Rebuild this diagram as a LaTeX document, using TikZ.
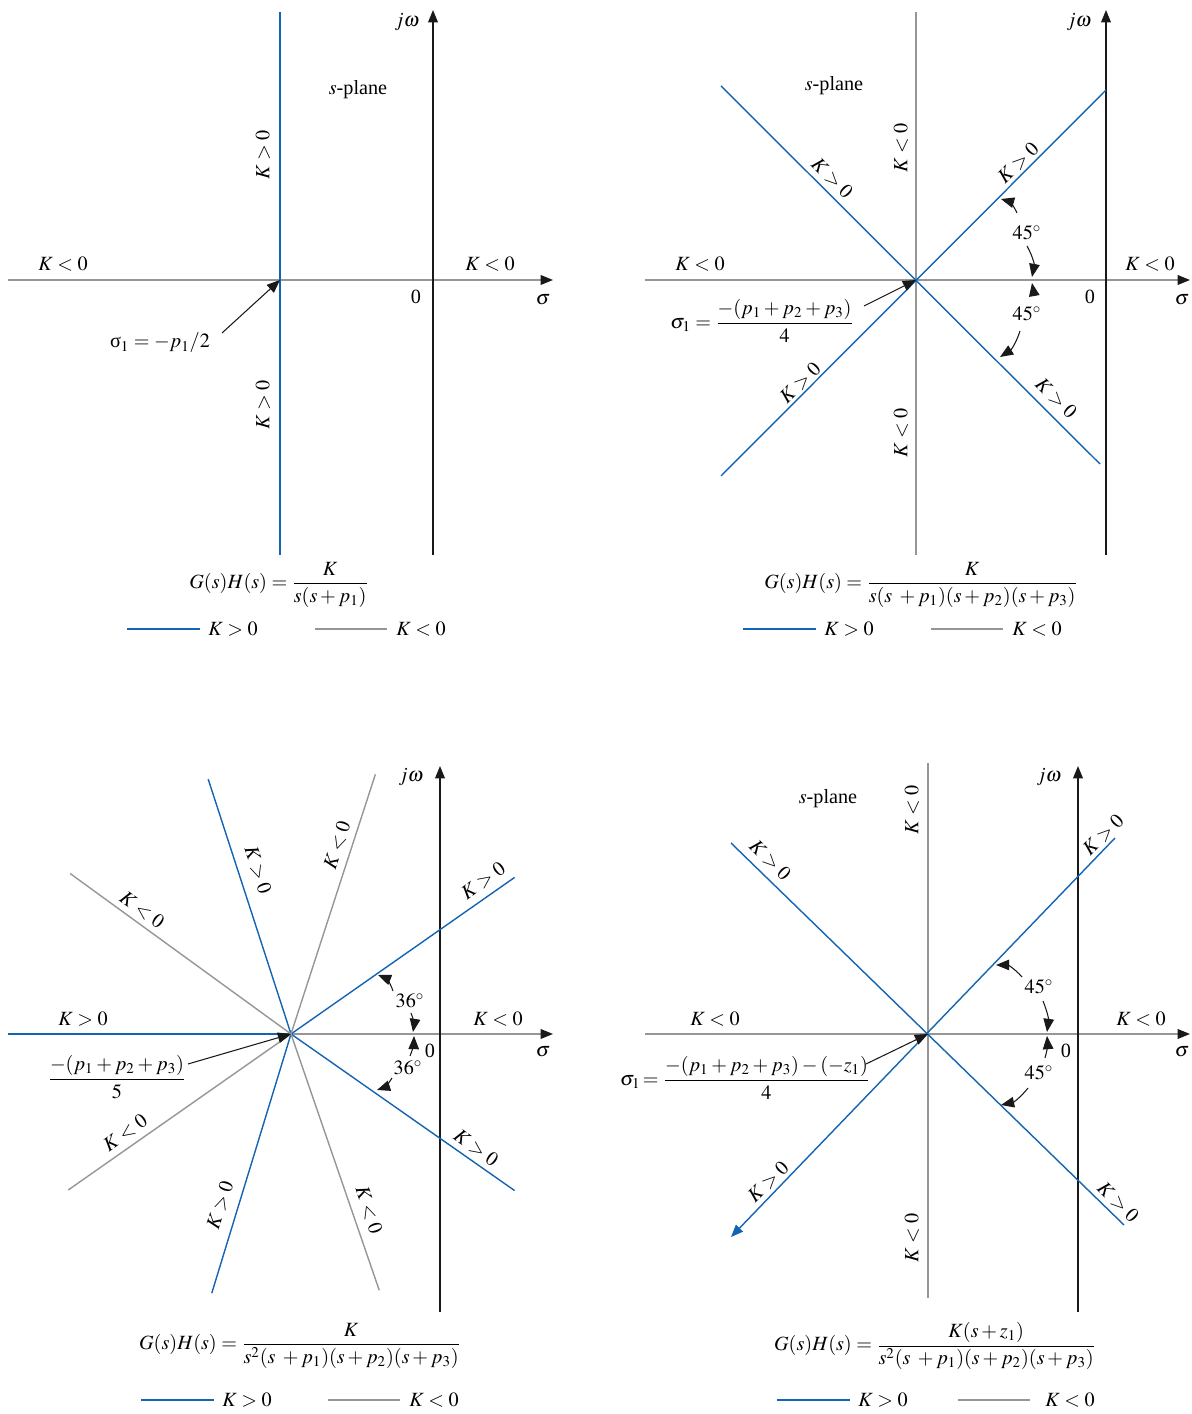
\documentclass[tikz,border=0pt]{standalone}
\usepackage{amsmath}
\usepackage{mathptmx}
\usepackage[no-math]{fontspec}
\setmainfont{Liberation Serif}
\usetikzlibrary{arrows.meta, positioning}
\definecolor{locblue}{RGB}{20, 100, 180}
\definecolor{locgray}{RGB}{150, 150, 150}
\definecolor{ink}{RGB}{25, 25, 25}

\begin{document}
\begin{tikzpicture}[x=0.02cm, y=0.02cm,
    txt/.style  = {font=\fontsize{11.5}{13.5}\selectfont, inner sep=1pt},
    kpos/.style = {color=locblue, line width=0.8pt},
    kneg/.style = {color=locgray, line width=0.8pt},
    jw/.style   = {color=ink, line width=0.8pt, -{Triangle[length=7pt, width=5.5pt]}},
    sig/.style  = {color=locgray, line width=0.8pt, -{Triangle[length=7pt, width=5.5pt, color=ink]}},
    arr/.style  = {color=ink, line width=0.6pt, -{Triangle[length=7.5pt, width=6pt]}},
  ]
    \useasboundingbox (0,0) rectangle (1191,1414);

    % ===== top left: K / s(s+p1) =====
    \coordinate (o1) at (280,1134);
    \draw[sig]  (8,1134) -- (553,1134);
    \draw[jw]   (433,859) -- (433,1404);
    \draw[kpos] (280,859) -- (280,1402);

    \node[txt] (jw1) at (407,1392) {$j\omega$};
    \node[txt] (pl1) at (358,1324) {$s$-plane};
    \node[txt, rotate=90] (kp1a) at (263,1259) {$K>0$};
    \node[txt, rotate=90] (kp1b) at (263,1009) {$K>0$};
    \node[txt] (kn1a) at (63,1150) {$K<0$};
    \node[txt] (kn1b) at (490,1150) {$K<0$};
    \node[txt] (z1) at (416,1117) {0};
    \node[txt] (sg1) at (543,1114) {$\sigma$};

    \node[txt] (c1) at (160,1071) {σ$_1 = -p_1/2$};
    \coordinate (c1a) at (222,1081);
    \draw[arr] (c1a) -- (o1);

    \node[txt] (gh1) at (279,829) {$G(s)H(s) = \dfrac{K}{s(s+p_1)}$};

    % legend
    \draw[kpos] (127,785) -- (200,785);
    \node[txt] (lp1) at (233,785) {$K>0$};
    \draw[kneg] (315,785) -- (387,785);
    \node[txt] (ln1) at (421,785) {$K<0$};

    % ===== top right: K / s(s+p1)(s+p2)(s+p3) =====
    \coordinate (o2) at (916,1134);
    \draw[sig]  (645,1134) -- (1190,1134);
    \draw[jw]   (1106,859) -- (1106,1404);
    \draw[kneg] (916,859) -- (916,1402);
    \draw[kpos] (721,1328) -- (1100,950);
    \draw[kpos] (721,938) -- (1106,1324);

    \node[txt] (jw2) at (1079,1392) {$j\omega$};
    \node[txt] (pl2) at (834,1328) {$s$-plane};
    \node[txt, rotate=90] (kn2a) at (901,1266) {$K<0$};
    \node[txt, rotate=90] (kn2b) at (901,981) {$K<0$};
    \node[txt, rotate=-45] (kp2a) at (832,1236) {$K>0$};
    \node[txt, rotate=45]  (kp2b) at (1018,1251) {$K>0$};
    \node[txt, rotate=45]  (kp2c) at (800,1031) {$K>0$};
    \node[txt, rotate=-45] (kp2d) at (1056,1016) {$K>0$};
    \node[txt] (kn2c) at (700,1150) {$K<0$};
    \node[txt] (kn2d) at (1150,1150) {$K<0$};
    \node[txt] (z2) at (1090,1117) {0};
    \node[txt] (sg2) at (1182,1114) {$\sigma$};

    % 45 degree marks
    \node[txt] (an2a) at (1027,1181) {$45^\circ$};
    \node[txt] (an2b) at (1027,1100) {$45^\circ$};
    \coordinate (an2a1) at (1017,1201);
    \coordinate (an2a2) at (1027,1168);
    \coordinate (an2b1) at (1032,1121);
    \coordinate (an2b2) at (1020,1083);
    \coordinate (tp2a) at (1001,1215);
    \coordinate (tp2b) at (1032,1137);
    \coordinate (tp2c) at (1032,1131);
    \coordinate (tp2d) at (1000,1057);
    \draw[arr] (an2a1) to[bend right=25] (tp2a);
    \draw[arr] (an2a2) to[bend left=20] (tp2b);
    \draw[arr] (an2b1) to[bend right=10] (tp2c);
    \draw[arr] (an2b2) to[bend left=20] (tp2d);

    \node[txt] (c2) at (762,1093) {$\sigma_1 = \dfrac{-(p_1+p_2+p_3)}{4}$};
    \coordinate (c2a) at (864,1108);
    \draw[arr] (c2a) -- (o2);

    \node[txt] (gh2) at (921,829) {$G(s)H(s) = \dfrac{K}{s(s\;+p_1)(s+p_2)(s+p_3)}$};

    % legend
    \draw[kpos] (743,785) -- (816,785);
    \node[txt] (lp2) at (849,785) {$K>0$};
    \draw[kneg] (931,785) -- (1003,785);
    \node[txt] (ln2) at (1037,785) {$K<0$};

    % ===== bottom left: K / s^2(s+p1)(s+p2)(s+p3) =====
    \coordinate (o3) at (291,380);
    \draw[kpos] (8,380) -- (o3);
    \draw[sig]  (o3) -- (553,380);
    \draw[jw]   (440,102) -- (440,648);
    \draw[kpos] (o3) -- ++(35:273);
    \draw[kpos] (o3) -- ++(108:268);
    \draw[kpos] (o3) -- ++(-35:273);
    \draw[kpos] (o3) -- ++(-107:271);
    \draw[kneg] (o3) -- ++(72:273);
    \draw[kneg] (o3) -- ++(144:273);
    \draw[kneg] (o3) -- ++(-71:271);
    \draw[kneg] (o3) -- ++(-145:272);

    \node[txt] (jw3) at (411,637) {$j\omega$};
    \node[txt] (kp3a) at (83,395) {$K>0$};
    \node[txt] (kn3a) at (498,395) {$K<0$};
    \node[txt] (z3) at (430,363) {0};
    \node[txt] (sg3) at (543,362) {$\sigma$};
    \node[txt, rotate=-36] (kn3b) at (142,504) {$K<0$};
    \node[txt, rotate=-72] (kp3b) at (258,544) {$K>0$};
    \node[txt, rotate=72]  (kn3c) at (337,569) {$K<0$};
    \node[txt, rotate=36]  (kp3c) at (483,533) {$K>0$};
    \node[txt, rotate=-36] (kp3d) at (476,266) {$K>0$};
    \node[txt, rotate=-72] (kn3d) at (369,204) {$K<0$};
    \node[txt, rotate=72]  (kp3e) at (220,209) {$K>0$};
    \node[txt, rotate=36]  (kn3e) at (125,281) {$K<0$};

    % 36 degree marks
    \node[txt] (an3a) at (410,413) {$36^\circ$};
    \node[txt] (an3b) at (408,346) {$36^\circ$};
    \coordinate (an3a1) at (393,423);
    \coordinate (an3a2) at (411,401);
    \coordinate (an3b1) at (410,358);
    \coordinate (an3b2) at (392,336);
    \coordinate (tp3a) at (378,439);
    \coordinate (tp3b) at (413,382);
    \coordinate (tp3c) at (414,378);
    \coordinate (tp3d) at (377,324);
    \draw[arr] (an3a1) to[bend right=25] (tp3a);
    \draw[arr] (an3a2) to[bend left=15] (tp3b);
    \draw[arr] (an3b1) to[bend right=10] (tp3c);
    \draw[arr] (an3b2) to[bend left=20] (tp3d);

    \node[txt] (c3) at (117,337) {$\dfrac{-(p_1+p_2+p_3)}{5}$};
    \coordinate (c3a) at (188,350);
    \draw[arr] (c3a) -- (o3);

    \node[txt] (gh3) at (300,68) {$G(s)H(s) = \dfrac{K}{s^2(s\;+p_1)(s+p_2)(s+p_3)}$};

    % legend
    \draw[kpos] (141,14) -- (214,14);
    \node[txt] (lp3) at (247,14) {$K>0$};
    \draw[kneg] (328,14) -- (400,14);
    \node[txt] (ln3) at (434,14) {$K<0$};

    % ===== bottom right: K(s+z1) / s^2(s+p1)(s+p2)(s+p3) =====
    \coordinate (o4) at (928,380);
    \draw[sig]  (645,380) -- (1190,380);
    \draw[kneg] (928,116) -- (928,651);
    \draw[jw]   (1078,102) -- (1078,648);
    \draw[kpos] (731,571) -- (1124,189);
    \draw[kpos, -{Triangle[length=7pt, width=5.5pt]}] (1115,576) -- (731,177);

    \node[txt] (jw4) at (1049,637) {$j\omega$};
    \node[txt] (pl4) at (828,615) {$s$-plane};
    \node[txt, rotate=90] (kn4a) at (912,604) {$K<0$};
    \node[txt, rotate=90] (kn4b) at (912,176) {$K<0$};
    \node[txt, rotate=-45] (kp4a) at (770,554) {$K>0$};
    \node[txt, rotate=45]  (kp4b) at (1103,579) {$K>0$};
    \node[txt, rotate=45]  (kp4c) at (768,232) {$K>0$};
    \node[txt, rotate=-45] (kp4d) at (1118,212) {$K>0$};
    \node[txt] (kn4c) at (715,395) {$K<0$};
    \node[txt] (kn4d) at (1141,395) {$K<0$};
    \node[txt] (z4) at (1066,363) {0};
    \node[txt] (sg4) at (1182,362) {$\sigma$};

    % 45 degree marks
    \node[txt] (an4a) at (1039,427) {$45^\circ$};
    \node[txt] (an4b) at (1039,341) {$45^\circ$};
    \coordinate (an4a1) at (1022,437);
    \coordinate (an4a2) at (1043,413);
    \coordinate (an4b1) at (1045,356);
    \coordinate (an4b2) at (1028,326);
    \coordinate (tp4a) at (996,449);
    \coordinate (tp4b) at (1047,382);
    \coordinate (tp4c) at (1047,378);
    \coordinate (tp4d) at (1001,309);
    \draw[arr] (an4a1) to[bend right=25] (tp4a);
    \draw[arr] (an4a2) to[bend left=15] (tp4b);
    \draw[arr] (an4b1) to[bend right=10] (tp4c);
    \draw[arr] (an4b2) to[bend left=20] (tp4d);

    \node[txt] (c4) at (745,336) {$\sigma_1\!= \dfrac{-(p_1+p_2+p_3)-(-z_1)}{4}$};
    \coordinate (c4a) at (866,350);
    \draw[arr] (c4a) -- (o4);

    \node[txt] (gh4) at (935,68) {$G(s)H(s) = \dfrac{K(s+z_1)}{s^2(s\;+p_1)(s+p_2)(s+p_3)}$};

    % legend
    \draw[kpos] (777,14) -- (850,14);
    \node[txt] (lp4) at (883,14) {$K>0$};
    \draw[kneg] (958,14) -- (1030,14);
    \node[txt] (ln4) at (1070,14) {$K<0$};

  \end{tikzpicture}
\end{document}
